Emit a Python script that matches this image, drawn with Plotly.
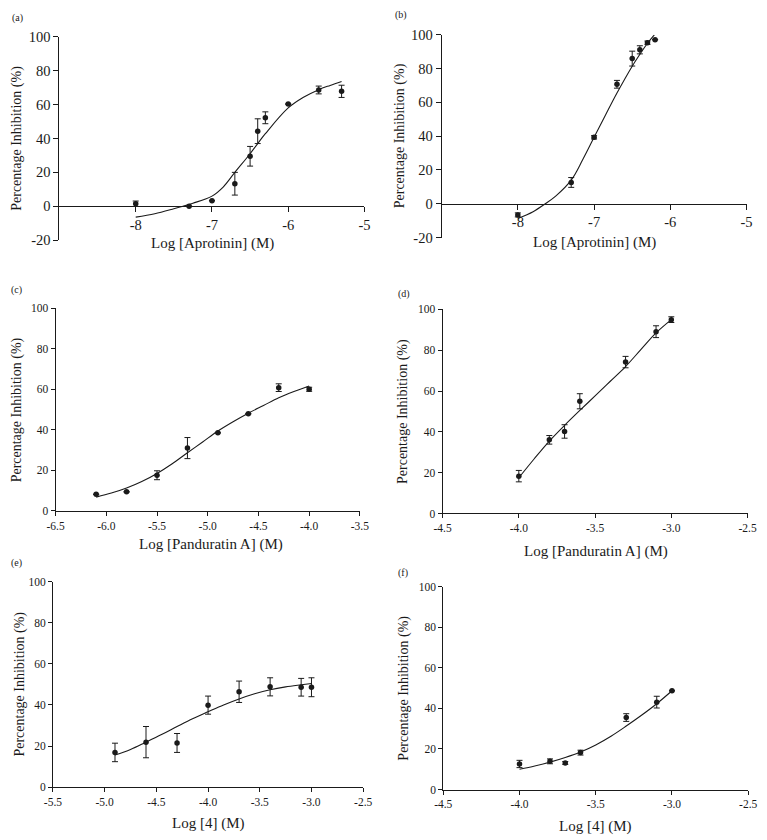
import plotly.graph_objects as go

# ---------------- data ----------------
a_x = [-8, -7.3, -7, -6.7, -6.5, -6.4, -6.3, -6, -5.6, -5.3]
a_y = [1.5, 0, 3.3, 13.3, 29.5, 44.3, 52.2, 60.3, 68.6, 67.8]
a_err = [1.6, 0, 0, 6.7, 5.8, 7.3, 3.5, 0, 2.3, 3.6]
a_cx = [-8, -7.75, -7.5, -7.38, -7.25, -7, -6.85, -6.7, -6.5, -6.4, -6.3, -6, -5.8, -5.6, -5.45, -5.3]
a_cy = [-6.4, -4.4, -1.5, 0, 1.8, 6, 11.5, 20, 31, 37, 42.8, 58, 64.3, 68.8, 71.3, 73.6]

b_x = [-8, -7.3, -7, -6.7, -6.5, -6.4, -6.3, -6.2]
b_y = [-6.6, 12.6, 39.3, 70.7, 85.9, 91.1, 95.3, 97.1]
b_err = [1.2, 2.9, 1, 2.3, 4.4, 2.4, 1, 0]
b_cx = [-8, -7.8, -7.64, -7.5, -7.3, -7.15, -7, -6.85, -6.7, -6.5, -6.4, -6.3, -6.21]
b_cy = [-8.7, -4.7, 0, 4.7, 14, 26, 39.3, 52.5, 65.5, 81.4, 88.4, 95, 100]

c_x = [-6.1, -5.8, -5.5, -5.2, -4.9, -4.6, -4.3, -4.0]
c_y = [8.2, 9.4, 17.6, 31, 38.5, 47.9, 60.8, 60]
c_err = [0, 0, 2.2, 5.2, 0, 0, 1.9, 1]
c_cx = [-6.1, -5.95, -5.8, -5.65, -5.5, -5.35, -5.2, -5.05, -4.9, -4.75, -4.6, -4.45, -4.3, -4.15, -4.0]
c_cy = [6.8, 8.8, 11.3, 14.5, 18.5, 23.3, 28.7, 34, 39.4, 44, 48.2, 52, 55.8, 58.9, 61.6]

d_x = [-4.0, -3.8, -3.7, -3.6, -3.3, -3.1, -3.0]
d_y = [18.3, 36.1, 40.2, 55, 74.2, 89.1, 95]
d_err = [2.8, 2.1, 3.3, 3.7, 2.8, 2.9, 1.4]
d_cx = [-4.0, -3.9, -3.8, -3.7, -3.6, -3.5, -3.4, -3.3, -3.2, -3.1, -3.0]
d_cy = [17.5, 26.7, 35.5, 43.2, 50.5, 57.6, 64.8, 72, 80.3, 88.5, 95]

e_x = [-4.9, -4.6, -4.3, -4.0, -3.7, -3.4, -3.1, -3.0]
e_y = [16.9, 21.9, 21.5, 39.9, 46.4, 48.8, 48.6, 48.6]
e_err = [4.5, 7.6, 4.6, 4.4, 5.2, 4.4, 4.3, 4.6]
e_cx = [-4.9, -4.75, -4.6, -4.45, -4.3, -4.15, -4.0, -3.85, -3.7, -3.55, -3.4, -3.25, -3.1, -3.0]
e_cy = [15.6, 18.3, 21.9, 25.6, 29.5, 33.3, 36.7, 40, 42.9, 45.4, 47.4, 48.8, 49.8, 50.4]

f_x = [-4.0, -3.8, -3.7, -3.6, -3.3, -3.1, -3.0]
f_y = [12.6, 13.9, 13.1, 18.2, 35.5, 43.1, 48.7]
f_err = [1.8, 1.2, 0.7, 1.2, 1.9, 2.9, 0]
f_cx = [-4.0, -3.9, -3.8, -3.7, -3.6, -3.5, -3.4, -3.3, -3.2, -3.1, -3.0]
f_cy = [10, 11.6, 13.5, 15.8, 18.5, 22, 26.3, 31.3, 36.6, 42.3, 48.7]

# tick labels
ab_xticks = [-8, -7, -6, -5]
ab_xtext = ["-8", "-7", "-6", "-5"]
ab_yticks = [-20, 0, 20, 40, 60, 80, 100]
ab_ytext = ["-20", "0", "20", "40", "60", "80", "100"]
c_xticks = [-6.5, -6.0, -5.5, -5.0, -4.5, -4.0, -3.5]
c_xtext = ["-6.5", "-6.0", "-5.5", "-5.0", "-4.5", "-4.0", "-3.5"]
df_xticks = [-4.5, -4.0, -3.5, -3.0, -2.5]
df_xtext = ["-4.5", "-4.0", "-3.5", "-3.0", "-2.5"]
e_xticks = [-5.5, -5.0, -4.5, -4.0, -3.5, -3.0, -2.5]
e_xtext = ["-5.5", "-5.0", "-4.5", "-4.0", "-3.5", "-3.0", "-2.5"]
cf_yticks = [0, 20, 40, 60, 80, 100]
cf_ytext = ["0", "20", "40", "60", "80", "100"]

panel_labels = ["(a)", "(b)", "(c)", "(d)", "(e)", "(f)"]
x_titles = ["Log [Aprotinin] (M)", "Log [Aprotinin] (M)", "Log [Panduratin A] (M)",
            "Log [Panduratin A] (M)", "Log [4] (M)", "Log [4] (M)"]
y_title = "Percentage Inhibition (%)"

# ---------------- layout geometry (pixels) ----------------
W, H = 767, 840
FONT = "Liberation Serif"
INK = "#1a1a1a"


def fx(p):
    return p / W


def fy(p):
    return 1 - p / H


panels = [
    dict(x0=51.7, x1=364, yt=29.3, yb=236.7, xr=[-9, -5], yr=[-20, 100], xa=202,
         xt=ab_xticks, xtt=ab_xtext, yt_v=ab_yticks, yt_t=ab_ytext, tf=14.5, tl=5,
         lab=(9, 10.5), xtitle=(208, 240), ytitle=8.5),
    dict(x0=443, x1=755.3, yt=27.3, yb=234, xr=[-9, -5], yr=[-20, 100], xa=199.3,
         xt=ab_xticks, xtt=ab_xtext, yt_v=ab_yticks, yt_t=ab_ytext, tf=14.5, tl=5,
         lab=(401, 7.5), xtitle=(600, 239), ytitle=400.5),
    dict(x0=47.7, x1=359.3, yt=306, yb=512.7, xr=[-6.5, -3.5], yr=[0, 100], xa=None,
         xt=c_xticks, xtt=c_xtext, yt_v=cf_yticks, yt_t=cf_ytext, tf=11.5, tl=4,
         lab=(8, 287), xtitle=(207, 546.7), ytitle=8),
    dict(x0=444, x1=756.3, yt=307.3, yb=515.3, xr=[-4.5, -2.5], yr=[0, 100], xa=None,
         xt=df_xticks, xtt=df_xtext, yt_v=cf_yticks, yt_t=cf_ytext, tf=11.5, tl=4,
         lab=(404, 292), xtitle=(601, 554), ytitle=404),
    dict(x0=45, x1=362.7, yt=584.7, yb=794.3, xr=[-5.5, -2.5], yr=[0, 100], xa=None,
         xt=e_xticks, xtt=e_xtext, yt_v=cf_yticks, yt_t=cf_ytext, tf=11.5, tl=4,
         lab=(8, 566), xtitle=(204, 831.5), ytitle=11.5),
    dict(x0=444.7, x1=757, yt=590, yb=796.7, xr=[-4.5, -2.5], yr=[0, 100], xa=None,
         xt=df_xticks, xtt=df_xtext, yt_v=cf_yticks, yt_t=cf_ytext, tf=11.5, tl=4,
         lab=(403, 576), xtitle=(600, 834.5), ytitle=405),
]

series = [
    (a_x, a_y, a_err, a_cx, a_cy),
    (b_x, b_y, b_err, b_cx, b_cy),
    (c_x, c_y, c_err, c_cx, c_cy),
    (d_x, d_y, d_err, d_cx, d_cy),
    (e_x, e_y, e_err, e_cx, e_cy),
    (f_x, f_y, f_err, f_cx, f_cy),
]

fig = go.Figure()
layout = dict(
    width=W, height=H, margin=dict(l=0, r=0, t=0, b=0),
    paper_bgcolor="white", plot_bgcolor="white", showlegend=False,
    font=dict(family=FONT, color=INK),
)
annotations = []

for i, (p, s) in enumerate(zip(panels, series), start=1):
    xs, ys, es, cxs, cys = s
    xn = "x" if i == 1 else f"x{i}"
    yn = "y" if i == 1 else f"y{i}"
    xk = "xaxis" if i == 1 else f"xaxis{i}"
    yk = "yaxis" if i == 1 else f"yaxis{i}"

    fig.add_trace(go.Scatter(
        x=cxs, y=cys, mode="lines", line=dict(color=INK, width=1.1, shape="spline"),
        xaxis=xn, yaxis=yn, hoverinfo="skip", cliponaxis=True))
    fig.add_trace(go.Scatter(
        x=xs, y=ys, mode="markers", marker=dict(color=INK, size=5.5),
        error_y=dict(type="data", array=es, visible=True, color=INK, thickness=1, width=3),
        xaxis=xn, yaxis=yn))

    xa = dict(domain=[fx(p["x0"]), fx(p["x1"])], range=p["xr"], showline=True,
              linecolor=INK, linewidth=1, ticks="outside", ticklen=p["tl"], tickwidth=1,
              tickcolor=INK, tickvals=p["xt"], ticktext=p["xtt"], showgrid=False,
              zeroline=False, tickfont=dict(family=FONT, size=p["tf"], color=INK))
    if p["xa"] is not None:
        xa.update(anchor="free", position=fy(p["xa"]))
    else:
        xa.update(anchor=yn)
    ya = dict(domain=[fy(p["yb"]), fy(p["yt"])], range=p["yr"], anchor=xn, showline=True,
              linecolor=INK, linewidth=1, ticks="outside", ticklen=p["tl"], tickwidth=1,
              tickcolor=INK, tickvals=p["yt_v"], ticktext=p["yt_t"], showgrid=False,
              zeroline=False, tickfont=dict(family=FONT, size=p["tf"], color=INK))
    layout[xk] = xa
    layout[yk] = ya

    annotations.append(dict(text=panel_labels[i - 1], x=fx(p["lab"][0]), y=fy(p["lab"][1]),
                            xref="paper", yref="paper", showarrow=False,
                            xanchor="center", yanchor="middle",
                            font=dict(family=FONT, size=10, color=INK)))
    annotations.append(dict(text=x_titles[i - 1], x=fx(p["xtitle"][0]), y=fy(p["xtitle"][1]),
                            xref="paper", yref="paper", showarrow=False,
                            xanchor="center", yanchor="middle",
                            font=dict(family=FONT, size=15, color=INK)))
    annotations.append(dict(text=y_title, x=fx(p["ytitle"]), y=(fy(p["yt"]) + fy(p["yb"])) / 2,
                            xref="paper", yref="paper", showarrow=False, textangle=-90,
                            xanchor="center", yanchor="middle",
                            font=dict(family=FONT, size=14, color=INK)))

layout["annotations"] = annotations
fig.update_layout(**layout)

fig.write_html("out.html", config={"displayModeBar": False},
               post_script="document.body.style.margin='0';document.body.style.overflow='hidden';")
